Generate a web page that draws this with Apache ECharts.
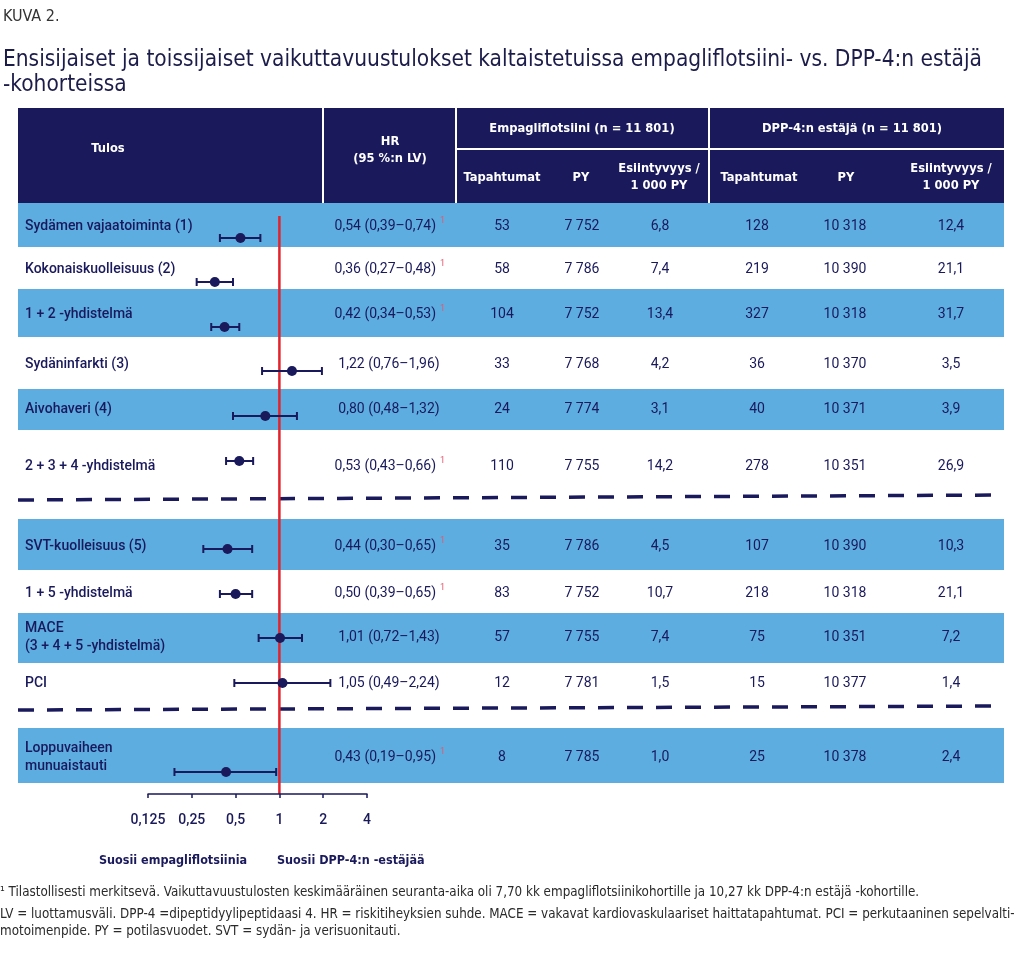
<!DOCTYPE html>
<html>
<head>
<meta charset="utf-8">
<script src="https://cdn.jsdelivr.net/npm/echarts@6/dist/echarts.min.js"></script>
<style>
html,body{margin:0;padding:0;background:#fff;}
#main{width:1024px;height:969px;}
</style>
</head>
<body>
<div id="main"></div>
<script>
// ---------------- DATA ----------------
const outcomes = [
  'Sydämen vajaatoiminta (1)',
  'Kokonaiskuolleisuus (2)',
  '1 + 2 -yhdistelmä',
  'Sydäninfarkti (3)',
  'Aivohaveri (4)',
  '2 + 3 + 4 -yhdistelmä',
  'SVT-kuolleisuus (5)',
  '1 + 5 -yhdistelmä',
  'MACE\n(3 + 4 + 5 -yhdistelmä)',
  'PCI',
  'Loppuvaiheen\nmunuaistauti'
];
const hr      = [0.54, 0.36, 0.42, 1.22, 0.80, 0.53, 0.44, 0.50, 1.01, 1.05, 0.43];
const ciLow   = [0.39, 0.27, 0.34, 0.76, 0.48, 0.43, 0.30, 0.39, 0.72, 0.49, 0.19];
const ciHigh  = [0.74, 0.48, 0.53, 1.96, 1.32, 0.66, 0.65, 0.65, 1.43, 2.24, 0.95];
const significant = [1, 1, 1, 0, 0, 1, 1, 1, 0, 0, 1];
const empaEvents = [53, 58, 104, 33, 24, 110, 35, 83, 57, 12, 8];
const empaPY     = [7752, 7786, 7752, 7768, 7774, 7755, 7786, 7752, 7755, 7781, 7785];
const empaRate   = [6.8, 7.4, 13.4, 4.2, 3.1, 14.2, 4.5, 10.7, 7.4, 1.5, 1.0];
const dppEvents  = [128, 219, 327, 36, 40, 278, 107, 218, 75, 15, 25];
const dppPY      = [10318, 10390, 10318, 10370, 10371, 10351, 10390, 10318, 10351, 10377, 10378];
const dppRate    = [12.4, 21.1, 31.7, 3.5, 3.9, 26.9, 10.3, 21.1, 7.2, 1.4, 2.4];
const hrTicks    = [0.125, 0.25, 0.5, 1, 2, 4];
const refHR      = 1;

// ---------------- LAYOUT (row geometry in layout units, px below table body top) ----------------
const rowTop    = [0, 44, 86, 134, 186, 227, 316, 367, 410, 460, 525];
const rowBottom = [44, 86, 134, 186, 227, 287, 367, 410, 460, 500, 580];
const textY     = [23, 66, 111, 161, 206, 263, 343, 390, 434, 480, 554];
const markY     = [35, 79, 124, 168, 213, 258, 346, 391, 435, 480, 569];
const dashY     = [[297, 292], [507, 503]];
const BODY_H = 591;
const colX = [502, 582, 660, 757, 845, 951];

const NAVY = '#19195c';
const BLUE = '#5dade1';
const RED = '#e3232c';
const SUP = '#e2586c';
const COND = "'Liberation Sans Narrow','DejaVu Sans Condensed',sans-serif";

function fmtInt(n){ return String(n).replace(/\B(?=(\d{3})+(?!\d))/g, ' '); }
function fmtDec(v, d){ return v.toFixed(d).replace('.', ','); }

const chart = echarts.init(document.getElementById('main'), null, {renderer:'canvas'});

const rowIdx = outcomes.map((_, i) => [i]);

function renderRow(params, api){
  const i = params.dataIndex;
  const c = (x, y) => api.coord([x, y]);
  const children = [];
  if (i % 2 === 0){
    const p0 = c(18, rowTop[i]), p1 = c(1004, rowBottom[i]);
    children.push({type:'rect', shape:{x:p0[0], y:p0[1], width:p1[0]-p0[0], height:p1[1]-p0[1]}, style:{fill:BLUE}});
  }
  const ty = c(0, textY[i])[1];
  children.push({type:'text', x:c(25,0)[0], y:ty, style:{text:outcomes[i], fill:NAVY, font:"500 14px Roboto", align:'left', verticalAlign:'middle', lineHeight:18}});
  const hrTxt = fmtDec(hr[i],2) + ' (' + fmtDec(ciLow[i],2) + '–' + fmtDec(ciHigh[i],2) + ')';
  if (significant[i]){
    children.push({type:'text', x:c(436,0)[0], y:ty, style:{text:hrTxt, fill:NAVY, font:"14px Roboto", align:'right', verticalAlign:'middle'}});
    children.push({type:'text', x:c(440,0)[0], y:ty-5, style:{text:'1', fill:SUP, font:"9px Roboto", align:'left', verticalAlign:'middle'}});
  } else {
    children.push({type:'text', x:c(389,0)[0], y:ty, style:{text:hrTxt, fill:NAVY, font:"14px Roboto", align:'center', verticalAlign:'middle'}});
  }
  const vals = [fmtInt(empaEvents[i]), fmtInt(empaPY[i]), fmtDec(empaRate[i],1), fmtInt(dppEvents[i]), fmtInt(dppPY[i]), fmtDec(dppRate[i],1)];
  vals.forEach((v, k) => {
    children.push({type:'text', x:c(colX[k],0)[0], y:ty, style:{text:v, fill:NAVY, font:"14px Roboto", align:'center', verticalAlign:'middle'}});
  });
  return {type:'group', children};
}

function renderDash(params, api){
  const d = dashY[params.dataIndex];
  const p0 = api.coord([18, d[0]]), p1 = api.coord([1004, d[1]]);
  return {type:'line', shape:{x1:p0[0], y1:p0[1], x2:p1[0], y2:p1[1]}, style:{stroke:NAVY, lineWidth:3.5, lineDash:[16,13]}};
}

function renderCI(params, api){
  const y = api.value(0), lo = api.value(1), hi = api.value(2);
  const a = api.coord([lo, y]), b = api.coord([hi, y]);
  const h = 4;
  const st = {stroke:NAVY, lineWidth:2};
  return {type:'group', children:[
    {type:'line', shape:{x1:a[0], y1:a[1], x2:b[0], y2:b[1]}, style:st},
    {type:'line', shape:{x1:a[0], y1:a[1]-h, x2:a[0], y2:a[1]+h}, style:st},
    {type:'line', shape:{x1:b[0], y1:b[1]-h, x2:b[0], y2:b[1]+h}, style:st}
  ]};
}

// header graphic
const hdrText = (t, x, y) => ({type:'text', x, y, style:{text:t, fill:'#fff', font:"bold 12.8px " + COND, align:'center', verticalAlign:'middle', lineHeight:17}});
const footFont = "13.3px " + COND;
const graphics = [
  {type:'text', x:3, y:17, style:{text:'KUVA 2.', fill:'#333', font:"16px " + COND, align:'left', verticalAlign:'middle'}},
  {type:'text', x:3, y:60, style:{text:'Ensisijaiset ja toissijaiset vaikuttavuustulokset kaltaistetuissa empagliflotsiini- vs. DPP-4:n estäjä', fill:'#1c1c4a', font:"500 22.5px " + COND, align:'left', verticalAlign:'middle'}},
  {type:'text', x:3, y:85, style:{text:'-kohorteissa', fill:'#1c1c4a', font:"500 22.5px " + COND, align:'left', verticalAlign:'middle'}},
  {type:'rect', shape:{x:18, y:108, width:986, height:95}, style:{fill:NAVY}},
  {type:'line', shape:{x1:323, y1:108, x2:323, y2:203}, style:{stroke:'#fff', lineWidth:2}},
  {type:'line', shape:{x1:456, y1:108, x2:456, y2:203}, style:{stroke:'#fff', lineWidth:2}},
  {type:'line', shape:{x1:709, y1:108, x2:709, y2:203}, style:{stroke:'#fff', lineWidth:2}},
  {type:'line', shape:{x1:456, y1:149, x2:1004, y2:149}, style:{stroke:'#fff', lineWidth:2}},
  hdrText('Tulos', 108, 149),
  hdrText('HR\n(95 %:n LV)', 390, 150),
  hdrText('Empagliflotsiini (n = 11 801)', 582, 129),
  hdrText('DPP-4:n estäjä (n = 11 801)', 852, 129),
  hdrText('Tapahtumat', 502, 178),
  hdrText('PY', 581, 178),
  hdrText('Esiintyvyys /\n1 000 PY', 659, 177),
  hdrText('Tapahtumat', 759, 178),
  hdrText('PY', 846, 178),
  hdrText('Esiintyvyys /\n1 000 PY', 951, 177),
  {type:'text', x:173, y:861, style:{text:'Suosii empagliflotsiinia', fill:NAVY, font:"bold 12.5px " + COND, align:'center', verticalAlign:'middle'}},
  {type:'text', x:277, y:861, style:{text:'Suosii DPP-4:n -estäjää', fill:NAVY, font:"bold 12.5px " + COND, align:'left', verticalAlign:'middle'}},
  {type:'text', x:0, y:893, style:{text:'¹ Tilastollisesti merkitsevä. Vaikuttavuustulosten keskimääräinen seuranta-aika oli 7,70 kk empagliflotsiinikohortille ja 10,27 kk DPP-4:n estäjä -kohortille.', fill:'#2a2a2a', font:footFont, align:'left', verticalAlign:'middle'}},
  {type:'text', x:0, y:915, style:{text:'LV = luottamusväli. DPP-4 =dipeptidyylipeptidaasi 4. HR = riskitiheyksien suhde. MACE = vakavat kardiovaskulaariset haittatapahtumat. PCI = perkutaaninen sepelvalti-', fill:'#2a2a2a', font:footFont, align:'left', verticalAlign:'middle'}},
  {type:'text', x:0, y:932, style:{text:'motoimenpide. PY = potilasvuodet. SVT = sydän- ja verisuonitauti.', fill:'#2a2a2a', font:footFont, align:'left', verticalAlign:'middle'}}
];

const option = {
  animation: false,
  backgroundColor: '#fff',
  graphic: graphics,
  grid: [
    {left:0, right:0, top:203, height:BODY_H},
    {left:148, width:219, top:203, height:BODY_H}
  ],
  xAxis: [
    {gridIndex:0, type:'value', min:0, max:1024, show:false},
    {gridIndex:1, type:'log', logBase:2, min:hrTicks[0], max:hrTicks[hrTicks.length-1], interval:1,
     position:'bottom', z:10,
     axisLine:{show:true, onZero:false, lineStyle:{color:NAVY, width:1.5}},
     axisTick:{show:true, inside:false, length:4, lineStyle:{color:NAVY, width:1.5}},
     splitLine:{show:false}, minorTick:{show:false},
     axisLabel:{show:true, margin:19, color:NAVY, fontFamily:'Roboto', fontSize:14, fontWeight:500,
       formatter: v => String(Math.round(v*1000)/1000).replace('.', ',')}}
  ],
  yAxis: [
    {gridIndex:0, type:'value', min:0, max:BODY_H, inverse:true, show:false},
    {gridIndex:1, type:'value', min:0, max:BODY_H, inverse:true, show:false}
  ],
  series: [
    {type:'custom', xAxisIndex:0, yAxisIndex:0, z:1, silent:true, data:rowIdx, renderItem:renderRow, clip:false},
    {type:'custom', xAxisIndex:0, yAxisIndex:0, z:2, silent:true, data:dashY.map((_, i)=>[i]), renderItem:renderDash, clip:false},
    {type:'line', xAxisIndex:1, yAxisIndex:1, z:3, symbol:'none', silent:true,
     data:[[refHR, 13], [refHR, BODY_H]], lineStyle:{color:RED, width:2.5}},
    {type:'custom', xAxisIndex:1, yAxisIndex:1, z:4, silent:true, renderItem:renderCI, clip:false,
     data: hr.map((_, i) => [markY[i], ciLow[i], ciHigh[i]])},
    {type:'scatter', xAxisIndex:1, yAxisIndex:1, z:5, silent:true, symbol:'circle', symbolSize:10,
     itemStyle:{color:NAVY, opacity:1}, data: hr.map((v, i) => [v, markY[i]])}
  ]
};
chart.setOption(option);
</script>
</body>
</html>
